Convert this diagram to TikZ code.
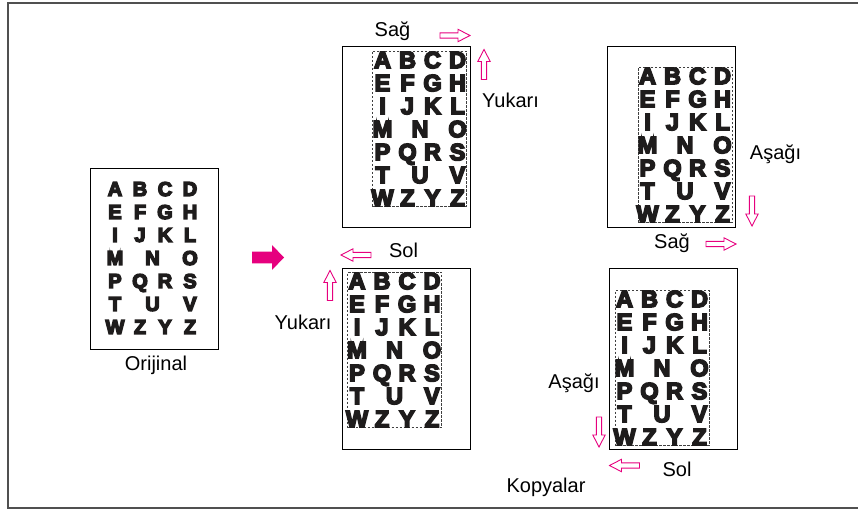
\documentclass[tikz,border=0pt]{standalone}
\usepackage{fontspec}
\setmainfont{Liberation Sans}
\newfontfamily\heavyfont{Liberation Sans Bold}
\usepackage{tikz}

\definecolor{arrowpink}{RGB}{230,0,126}
\definecolor{framegray}{RGB}{80,80,80}
\definecolor{inkblack}{RGB}{30,28,28}

% fill and stroke the glyphs, so they look heavier
\newcommand\inkon[1]{\special{pdf:literal direct 2 Tr #1 w}}
\newcommand\inkoff{\special{pdf:literal direct 0 Tr}}

\tikzset{
  page/.style={draw=black, line width=0.8pt, minimum width=128pt, minimum height=181pt, inner sep=0pt},
  cropline/.style={draw=black!75, line width=0.5pt, dash pattern=on 2.5pt off 1.5pt,
    minimum width=94pt, minimum height=155pt, inner sep=0pt},
  glyph/.style={inner sep=0pt, text depth=0pt, text=inkblack},
  caption/.style={font=\fontsize{20}{24}\selectfont, inner sep=0pt, anchor=base},
  hollowarrow/.pic={
    \draw[arrowpink, line width=0.9pt, line join=miter]
      (-15,-2.6) -- (3,-2.6) -- (3,-6.2) -- (15,0) -- (3,6.2) -- (3,2.6) -- (-15,2.6) -- cycle;
  }
}

% letters of one sheet, #1 prefix, #2 font size, #3 stroke width
\newcommand\alphabetgrid[3]{%
  \foreach \ch/\cx/\cy [count=\k] in {A/0/0,B/1/0,C/2/0,D/3/0,E/0/1,F/1/1,G/2/1,H/3/1,
      I/0/2,J/1/2,K/2/2,L/3/2,M/0/3,N/1.5/3,O/3/3,P/0/4,Q/1/4,R/2/4,S/3/4,
      T/0/5,U/1.5/5,V/3/5,W/0/6,Z/1/6,Y/2/6,Z/3/6}
    \node[glyph, font=\heavyfont\fontsize{#2}{#2}\selectfont] (#1-\k)
      at (\cx*25-37.5, \cy*23-69) {\inkon{#3}\ch\inkoff};
}

\begin{document}
\begin{tikzpicture}[x=1pt,y=-1pt]
  \useasboundingbox (0,0) rectangle (858,510);

  % outer frame, open to the right
  \draw[framegray, line width=1.5pt] (866,3) -- (8,3) -- (8,508) -- (866,508);

  % original
  \node[page] (orig) at (154,258.5) {};
  \begin{scope}[shift={(152.5,258)}]
    \alphabetgrid{o}{20}{1.4}
  \end{scope}
  \node[caption] (origlabel) at (156,370.5) {Orijinal};

  % big arrow
  \fill[arrowpink] (252,251.7) -- (272,251.7) -- (272,245) -- (284,257.5)
    -- (272,270) -- (272,263.3) -- (252,263.3) -- cycle;

  % copy 1: Sag / Yukari
  \node[page] (copyA) at (406,137) {};
  \node[cropline] (cropA) at (419,128.5) {};
  \begin{scope}[shift={(420,129)}]
    \alphabetgrid{a}{23.5}{1.6}
  \end{scope}
  \node[caption] (sagA) at (392.5,37) {Sağ};
  \pic (arrA1) at (455,35.5) {hollowarrow};
  \pic[rotate=90] (arrA2) at (484,64.5) {hollowarrow};
  \node[caption] (yukA) at (510.5,108) {Yukarı};

  % copy 2: Asagi / Sag
  \node[page] (copyB) at (671.5,136.5) {};
  \node[cropline] (cropB) at (685,145) {};
  \begin{scope}[shift={(685,145)}]
    \alphabetgrid{b}{23.5}{1.6}
  \end{scope}
  \node[caption] (asB) at (775.5,159.5) {Aşağı};
  \pic[rotate=-90] (arrB1) at (752,211) {hollowarrow};
  \node[caption] (sagB) at (672,249) {Sağ};
  \pic (arrB2) at (721,244) {hollowarrow};

  % copy 3: Sol / Yukari
  \node[page] (copyC) at (406,359) {};
  \node[cropline] (cropC) at (394.5,350) {};
  \begin{scope}[shift={(394.5,350)}]
    \alphabetgrid{c}{23.5}{1.6}
  \end{scope}
  \node[caption] (solC) at (403.5,257.5) {Sol};
  \pic[rotate=180] (arrC1) at (356,255) {hollowarrow};
  \pic[rotate=90] (arrC2) at (330,285.5) {hollowarrow};
  \node[caption] (yukC) at (303,329) {Yukarı};

  % copy 4: Asagi / Sol
  \node[page] (copyD) at (673,358.5) {};
  \node[cropline] (cropD) at (662,368) {};
  \begin{scope}[shift={(662,368)}]
    \alphabetgrid{d}{23.5}{1.6}
  \end{scope}
  \node[caption] (asD) at (574,388.5) {Aşağı};
  \pic[rotate=-90] (arrD1) at (599,432) {hollowarrow};
  \pic[rotate=180] (arrD2) at (624.5,465.5) {hollowarrow};
  \node[caption] (solD) at (677,476) {Sol};
  \node[caption] (kopya) at (546,492.5) {Kopyalar};
\end{tikzpicture}
\end{document}
